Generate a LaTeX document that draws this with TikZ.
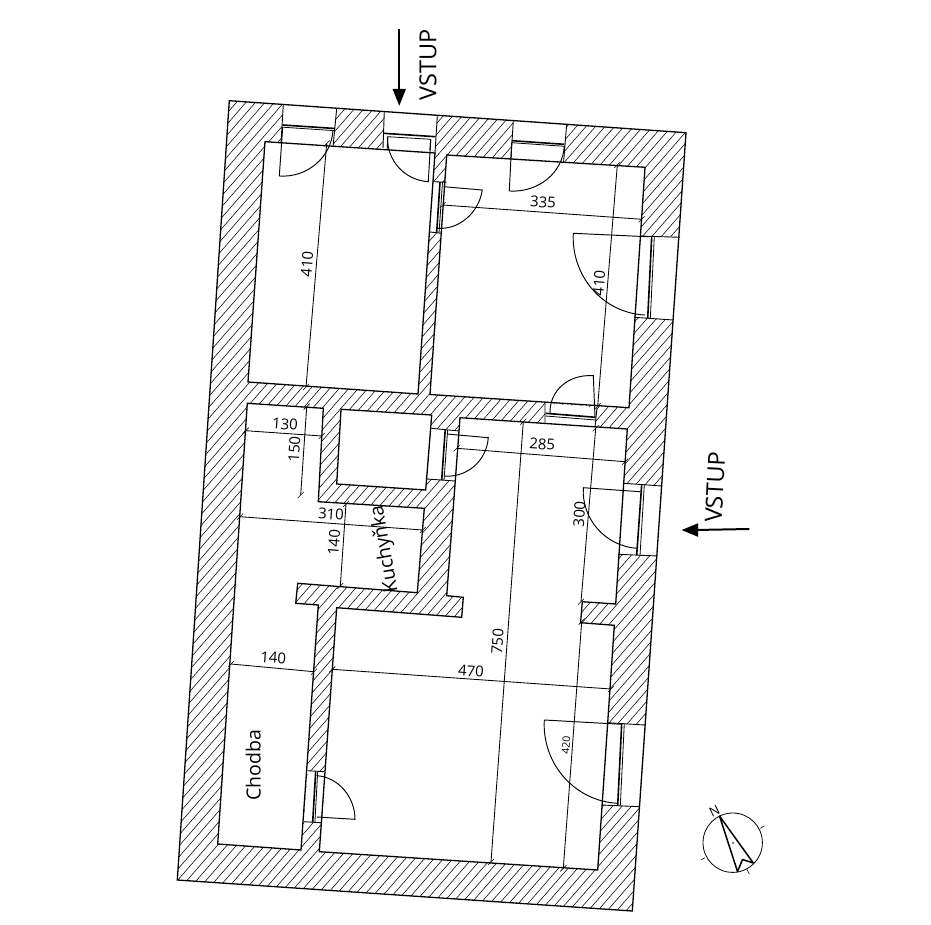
\documentclass[tikz,border=0pt]{standalone}
\usepackage{fontspec}
\setmainfont{Open Sans}
\usetikzlibrary{calc}
\tikzset{
  x=1pt,y=-1pt,
  wall/.style={line width=1.3pt,draw=black},
  hatchline/.style={line width=.55pt},
  room/.style={wall,fill=white},
  opening/.style={fill=white,draw=none},
  jamb/.style={line width=.9pt},
  sash/.style={line width=1.6pt},
  sashthin/.style={line width=.8pt},
  leaf/.style={line width=.95pt},
  dimline/.style={line width=.85pt},
  dimtext/.style={font=\fontsize{15}{15}\selectfont,inner sep=0pt},
  label/.style={font=\fontsize{19.5}{19.5}\selectfont,inner sep=0pt},
  bigarrow/.style={line width=2pt},
}
% quarter-circle door: centre, leaf end, other end
\newcommand{\doorswing}[3]{%
  \draw[leaf] (#1) -- (#2) .. controls ($(#2)+0.5523*(#3)-0.5523*(#1)$) and ($(#3)+0.5523*(#2)-0.5523*(#1)$) .. (#3);}
% dimension line with slash ticks
\newcommand{\dimln}[2]{%
  \draw[dimline] (#1) -- (#2);
  \draw[line width=.6pt] ($(#1)+(-3,3)$) -- ($(#1)+(3,-3)$);
  \draw[line width=.6pt] ($(#2)+(-3,3)$) -- ($(#2)+(3,-3)$);}
\begin{document}
\begin{tikzpicture}
\useasboundingbox (0,0) rectangle (931,925);
\fill[white] (0,0) rectangle (931,925);

% outer wall with hatching
\begin{scope}
\clip (229.3,100.7) -- (686,132.7) -- (632.3,911) -- (177.3,880) -- cycle;
\foreach \t in {-700,-690.5,...,700} {
  \draw[hatchline] (\t,950) -- ({\t+826},0);
}
\end{scope}

% window and door openings through the walls
\fill[opening] (283.3,104.3) -- (336.7,108.3) -- (333,147) -- (281,143) -- cycle;
\fill[opening] (384.3,111.7) -- (437.3,116) -- (435,154) -- (383,150) -- cycle;
\fill[opening] (513.3,120.7) -- (566.7,124) -- (563.5,163) -- (511,159) -- cycle;
\fill[opening] (640,236) -- (680,237.3) -- (673.3,320) -- (634,317.3) -- cycle;
\fill[opening] (624,483.3) -- (661.7,486) -- (657.3,556) -- (618.3,554.3) -- cycle;
\fill[opening] (607.3,722.7) -- (645,725) -- (639.3,806.7) -- (601.7,805) -- cycle;
\fill[opening] (433.3,181.7) -- (446.7,182.3) -- (441.7,233.3) -- (430,232) -- cycle;
\fill[opening] (545,403) -- (597,407.7) -- (595,427.3) -- (545,422.7) -- cycle;
\fill[opening] (431.3,428.3) -- (459,431) -- (455,481) -- (427,479) -- cycle;
\fill[opening] (307.7,770.7) -- (324.3,771.7) -- (321,822.7) -- (304,821.7) -- cycle;

% rooms
\path[room] (265,141.7) -- (435,153) -- (418,394) -- (248,382) -- cycle;
\path[room] (446.7,155) -- (645,167.3) -- (629,407.7) -- (430,394.5) -- cycle;
\path[room] (341,409.3) -- (431.7,415) -- (425.7,490) -- (336.7,484) -- cycle;
\path[room] (247.3,403.3) -- (323.3,408.3) -- (318.3,501.7) -- (424.3,508.3) -- (417.3,592.7)
  -- (297.7,583.3) -- (295.7,603.3) -- (318.3,605) -- (301,850) -- (217.7,844) -- cycle;
\path[room] (460,417.7) -- (627.3,429) -- (615.7,604) -- (582.3,601.7) -- (580.6,622.7)
  -- (614.3,625.3) -- (597.7,870) -- (319.3,851.7) -- (336.7,607.7) -- (461.7,617.3)
  -- (463.3,597.3) -- (446.7,595.7) -- cycle;

% outer outline on top
\draw[wall] (229.3,100.7) -- (686,132.7) -- (632.3,911) -- (177.3,880) -- cycle;

% opening jambs
\draw[jamb] (283.3,104.3) -- (281,143.5) (336.7,108.3) -- (333,147);
\draw[jamb] (384.3,111.7) -- (383,148) (437.3,116) -- (435,153);
\draw[jamb] (513.3,120.7) -- (511,158) (566.7,124) -- (563.5,163);
\draw[jamb] (640,236) -- (680,237.3) (634,317.3) -- (673.3,320);
\draw[jamb] (624,483.3) -- (661.7,486) (618.3,554.3) -- (657.3,556);
\draw[jamb] (607.3,722.7) -- (645,725) (601.7,805) -- (639.3,806.7);
\draw[jamb] (433.3,181.7) -- (446.7,182.3) (430,232) -- (441.7,233.3);
\draw[jamb] (545,403) -- (545,422.7) (597,407.7) -- (595,427.3);
\draw[jamb] (431.3,428.3) -- (459,431) (427,479) -- (455,481);
\draw[jamb] (307.7,770.7) -- (324.3,771.7) (304,821.7) -- (321,822.7);

% window leaves
\draw[sash] (282.7,125) -- (335,128.5);
\draw[sashthin] (282.7,127.2) -- (335,130.7);
\draw[sash] (383.3,133.3) -- (435.7,136.7);
\draw[sashthin] (387.7,136.7) -- (430.7,139.3);
\draw[jamb] (387.7,136.7) -- (387.2,150) (430.7,139.3) -- (430,150);
\draw[sash] (511.7,140.7) -- (564.3,144.3);
\draw[sashthin] (511.7,142.7) -- (564.3,146.3);
\draw[sash] (651.7,236.5) -- (647.7,318.3);
\draw[sashthin] (654.3,236.7) -- (650.3,318.5);
\draw[sash] (641.7,484.5) -- (636.7,555);
\draw[sashthin] (644.3,484.7) -- (640,555.5);
\draw[sash] (621.7,723.3) -- (617.7,805.5);
\draw[sashthin] (624.3,723.5) -- (620.3,805.7);
\draw[sash] (440,182) -- (436.7,232.5);
\draw[sashthin] (442.5,182.2) -- (439,233);
\draw[sash] (545.5,413.3) -- (595.5,417.3);
\draw[sashthin] (545.5,416) -- (595.5,420);
\draw[sash] (445.2,430) -- (441.7,480);
\draw[sashthin] (447.6,430.2) -- (444,480.2);
\draw[sash] (315.7,771.5) -- (312.7,822);
\draw[sashthin] (317.7,771.6) -- (314.9,822.1);

% door swings
\doorswing{282.7,127}{279.3,176}{333,130.5}
\doorswing{430.7,139.3}{428.3,181.7}{387.7,136.7}
\doorswing{443.5,186.7}{482.3,190}{437.3,228.3}
\doorswing{511.7,142.7}{509.3,191}{564.3,146}
\doorswing{649,236.8}{573.3,233.3}{645,315}
\doorswing{595,417}{593.3,375.7}{550,413.7}
\doorswing{447,434}{488.3,437.7}{444,476}
\doorswing{640,491.7}{583.3,487.7}{636.7,548.3}
\doorswing{621.7,724.3}{544.3,720}{617.3,803.3}
\doorswing{316.7,817}{355,819.3}{316.7,775.7}

% dimensions
\dimln{326.7,143.5}{306,387}
\node[dimtext,rotate=85.3] (d410a) at (307,264) {410};
\dimln{442.7,205}{641.7,219.3}
\node[dimtext,rotate=-4] (d335) at (543,202) {335};
\dimln{617.3,165}{597.7,406}
\node[dimtext,rotate=85.3] (d410b) at (599,283) {410};
\dimln{245.7,430.7}{321.7,436}
\node[dimtext,rotate=-4] (d130) at (285,424) {130};
\dimln{306.7,406.7}{300.7,495}
\node[dimtext,rotate=86] (d150) at (294.3,449.3) {150};
\dimln{240,516.7}{422.7,530}
\node[dimtext,rotate=-4] (d310) at (331,514) {310};
\dimln{346,504}{340.3,586}
\node[dimtext,rotate=86] (d140a) at (334,542.7) {140};
\dimln{456.7,448.3}{625,461.7}
\node[dimtext,rotate=-4] (d285) at (542.3,444.3) {285};
\dimln{523.3,421.7}{491,862}
\node[dimtext,rotate=86] (d750) at (497.5,641.7) {750};
\dimln{595.7,428.3}{581,601.7}
\node[dimtext,rotate=86] (d300) at (579.3,514) {300};
\dimln{581.7,621.7}{563.3,868.3}
\node[dimtext,rotate=86,font=\fontsize{10.5}{10.5}\selectfont] (d420) at (566,745) {420};
\dimln{231,664}{314,671.7}
\node[dimtext,rotate=-4] (d140b) at (273.3,657.7) {140};
\dimln{332.3,669.3}{611,689}
\node[dimtext,rotate=-4] (d470) at (471,671) {470};

% labels
\node[label,rotate=100] (kuch) at (385,549) {Kuchyňka};
\node[label,rotate=90] (chod) at (253.3,765) {Chodba};
\node[font=\fontsize{23.5}{23.5}\selectfont,inner sep=0pt,rotate=90] (v1) at (428,65) {VSTUP};
\node[font=\fontsize{23.5}{23.5}\selectfont,inner sep=0pt,rotate=87] (v2) at (715,487) {VSTUP};

% entry arrows
\draw[bigarrow] (399.3,29.3) -- (399.3,92);
\fill (392.5,89) -- (406,89) -- (399.3,105.7) -- cycle;
\draw[bigarrow] (749.3,529) -- (695,530);
\fill (698,523.3) -- (698,536.8) -- (681.7,530) -- cycle;

% north sign
\draw[line width=.8pt] (732.7,842.7) circle[radius=29.7];
\draw[line width=.6pt] (760.3,828.3) -- (764.3,826) (704.7,857.7) -- (701,860) (746.7,869) -- (749.3,874);
\draw[line width=1.5pt,line join=round] (719.5,816) -- (737.5,871.5) -- (742.5,859.5) -- (753.3,863) -- cycle;
\fill (733,843) circle[radius=.8];
\node[font=\fontsize{13}{13}\selectfont,inner sep=0pt,rotate=26] (north) at (714.5,811) {N};
\end{tikzpicture}
\end{document}
